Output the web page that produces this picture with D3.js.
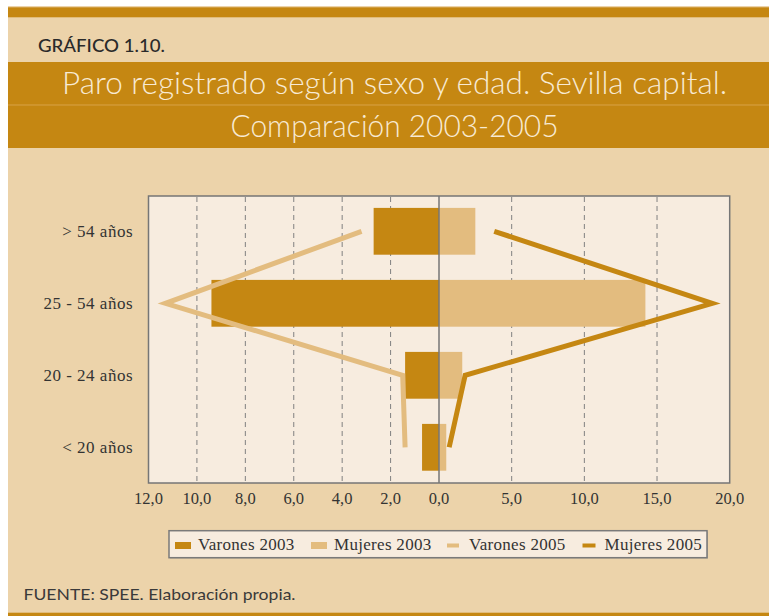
<!DOCTYPE html>
<html>
<head>
<meta charset="utf-8">
<script src="https://cdn.jsdelivr.net/npm/d3@7"></script>
<style>
  html, body { margin: 0; padding: 0; background: #fff; }
  svg { display: block; }
</style>
</head>
<body>
<div id="chart"></div>
<script>
// ---- data ----
const categories = ["> 54 años", "25 - 54 años", "20 - 24 años", "< 20 años"];
const varones2003 = [2.7, 9.4, 1.4, 0.7];
const mujeres2003 = [2.5, 14.2, 1.6, 0.5];
const varones2005 = [3.2, 11.3, 1.5, 1.4];
const mujeres2005 = [3.8, 18.8, 1.8, 0.7];
const leftTicks = [12, 10, 8, 6, 4, 2, 0];
const rightTicks = [5, 10, 15, 20];
const legendLabels = ["Varones 2003", "Mujeres 2003", "Varones 2005", "Mujeres 2005"];
const titleLines = ["Paro registrado según sexo y edad. Sevilla capital.", "Comparación 2003-2005"];
const chartLabel = "GRÁFICO 1.10.";
const sourceText = "FUENTE: SPEE. Elaboración propia.";

// ---- style ----
const W = 769, H = 616;
const DARK = "#C58712", LIGHT = "#E3BC7F", TAN = "#ECD3AA", PLOTBG = "#F7ECDF";
const TEXT = "#333";
const SERIF = "'Liberation Serif', 'Times New Roman', serif";
const SANS = "Lato, 'Open Sans', sans-serif";

const svg = d3.select("#chart").append("svg").attr("width", W).attr("height", H);

// page background
svg.append("rect").attr("x", 0).attr("y", 0).attr("width", W).attr("height", H).attr("fill", "#fff");
svg.append("rect").attr("x", 8).attr("y", 6).attr("width", W - 8).attr("height", 607).attr("fill", TAN);
svg.append("rect").attr("x", 8).attr("y", 7.3).attr("width", W - 8).attr("height", 10).attr("fill", DARK);
svg.append("rect").attr("x", 8).attr("y", 612.7).attr("width", W - 8).attr("height", 4).attr("fill", DARK);

// title band
svg.append("rect").attr("x", 8).attr("y", 62).attr("width", W - 8).attr("height", 86).attr("fill", DARK);
svg.append("line").attr("x1", 8).attr("x2", W).attr("y1", 105).attr("y2", 105)
  .attr("stroke", "#D8A247").attr("stroke-width", 1);

svg.append("text").attr("x", 38).attr("y", 51.5).text(chartLabel)
  .attr("font-family", SANS).attr("font-size", 16.5).attr("font-weight", 500)
  .attr("fill", "#2a2a2a").attr("textLength", 127).attr("lengthAdjust", "spacingAndGlyphs");

const titleW = [665, 328];
svg.selectAll("text.title").data(titleLines).join("text")
  .attr("class", "title")
  .attr("x", 394.5).attr("y", (d, i) => i === 0 ? 94 : 136.5)
  .attr("text-anchor", "middle")
  .attr("font-family", SANS).attr("font-weight", 300).attr("font-size", 31)
  .attr("fill", "#F8EAD3")
  .attr("textLength", (d, i) => titleW[i]).attr("lengthAdjust", "spacingAndGlyphs")
  .text(d => d);

// ---- plot ----
const plot = { left: 148.5, right: 729.7, top: 196, bottom: 483, zero: 439 };
const xL = d3.scaleLinear().domain([0, 12]).range([plot.zero, plot.left]);
const xR = d3.scaleLinear().domain([0, 20]).range([plot.zero, plot.right]);
const y = d3.scaleBand().domain(categories).range([195.3, 483.3]).paddingInner(0.35).paddingOuter(0.175);

svg.append("rect").attr("x", plot.left).attr("y", plot.top)
  .attr("width", plot.right - plot.left).attr("height", plot.bottom - plot.top)
  .attr("fill", PLOTBG);

// dashed grid
const gridG = svg.append("g");
gridG.selectAll("line.gl").data(leftTicks.filter(t => t > 0 && t < 12)).join("line")
  .attr("x1", d => xL(d)).attr("x2", d => xL(d))
  .attr("y1", plot.top + 1).attr("y2", plot.bottom)
  .attr("stroke", "#808080").attr("stroke-width", 1).attr("stroke-dasharray", "5,4");
gridG.selectAll("line.gr").data(rightTicks.filter(t => t < 20)).join("line")
  .attr("x1", d => xR(d)).attr("x2", d => xR(d))
  .attr("y1", plot.top + 1).attr("y2", plot.bottom)
  .attr("stroke", "#808080").attr("stroke-width", 1).attr("stroke-dasharray", "5,4");

// bars
svg.selectAll("rect.v03").data(varones2003).join("rect")
  .attr("x", d => xL(d)).attr("y", (d, i) => y(categories[i]))
  .attr("width", d => xL(0) - xL(d)).attr("height", y.bandwidth())
  .attr("fill", DARK);
svg.selectAll("rect.m03").data(mujeres2003).join("rect")
  .attr("x", xR(0)).attr("y", (d, i) => y(categories[i]))
  .attr("width", d => xR(d) - xR(0)).attr("height", y.bandwidth())
  .attr("fill", LIGHT);

// frame + zero line
svg.append("rect").attr("x", plot.left).attr("y", plot.top)
  .attr("width", plot.right - plot.left).attr("height", plot.bottom - plot.top)
  .attr("fill", "none").attr("stroke", "#767676").attr("stroke-width", 1.5);
svg.append("line").attr("x1", plot.zero).attr("x2", plot.zero)
  .attr("y1", plot.top).attr("y2", plot.bottom)
  .attr("stroke", "#767676").attr("stroke-width", 1.5);

// lines 2005
const cy = c => y(c) + y.bandwidth() / 2;
const lineL = d3.line().x(d => xL(d[0])).y(d => cy(d[1]));
const lineR = d3.line().x(d => xR(d[0])).y(d => cy(d[1]));
svg.append("path").datum(varones2005.map((v, i) => [v, categories[i]]))
  .attr("d", lineL).attr("fill", "none").attr("stroke", LIGHT)
  .attr("stroke-width", 5).attr("stroke-linejoin", "miter");
svg.append("path").datum(mujeres2005.map((v, i) => [v, categories[i]]))
  .attr("d", lineR).attr("fill", "none").attr("stroke", DARK)
  .attr("stroke-width", 5).attr("stroke-linejoin", "miter");

// category labels
svg.selectAll("text.cat").data(categories).join("text")
  .attr("x", 133).attr("y", d => cy(d)).attr("dy", "0.35em")
  .attr("text-anchor", "end").attr("font-family", SERIF).attr("font-size", 17)
  .attr("letter-spacing", 0.5)
  .attr("fill", TEXT).text(d => d);

// tick labels
const fmt = v => d3.format(".1f")(v).replace(".", ",");
svg.selectAll("text.tl").data(leftTicks).join("text")
  .attr("x", d => xL(d)).attr("y", 504).attr("text-anchor", "middle")
  .attr("font-family", SERIF).attr("font-size", 16.5).attr("fill", TEXT).text(fmt);
svg.selectAll("text.tr").data(rightTicks).join("text")
  .attr("x", d => xR(d)).attr("y", 504).attr("text-anchor", "middle")
  .attr("font-family", SERIF).attr("font-size", 16.5).attr("fill", TEXT).text(fmt);

// legend
svg.append("rect").attr("x", 170).attr("y", 531.5).attr("width", 538).attr("height", 27)
  .attr("fill", "#8a8a8a").attr("opacity", 0.5);
svg.append("rect").attr("x", 169).attr("y", 530.7).attr("width", 538).attr("height", 27)
  .attr("fill", PLOTBG).attr("stroke", "#7a7a7a").attr("stroke-width", 1.5);
const legItems = [
  { x: 175, w: 16, h: 7, color: DARK, tx: 198 },
  { x: 311, w: 16, h: 7, color: LIGHT, tx: 334 },
  { x: 447, w: 12, h: 4, color: LIGHT, tx: 469 },
  { x: 582.5, w: 13, h: 4, color: DARK, tx: 604.5 }
];
const lg = svg.selectAll("g.leg").data(legendLabels).join("g");
lg.append("rect").attr("x", (d, i) => legItems[i].x)
  .attr("y", (d, i) => 545.5 - legItems[i].h / 2)
  .attr("width", (d, i) => legItems[i].w).attr("height", (d, i) => legItems[i].h)
  .attr("fill", (d, i) => legItems[i].color);
lg.append("text").attr("x", (d, i) => legItems[i].tx).attr("y", 549.5)
  .attr("font-family", SERIF).attr("font-size", 17).attr("letter-spacing", 0.3)
  .attr("fill", TEXT).text(d => d);

// source
svg.append("text").attr("x", 23.5).attr("y", 600).text(sourceText)
  .attr("font-family", SANS).attr("font-size", 16).attr("font-weight", 400)
  .attr("fill", "#3a3a3a").attr("textLength", 272).attr("lengthAdjust", "spacingAndGlyphs");
</script>
</body>
</html>
